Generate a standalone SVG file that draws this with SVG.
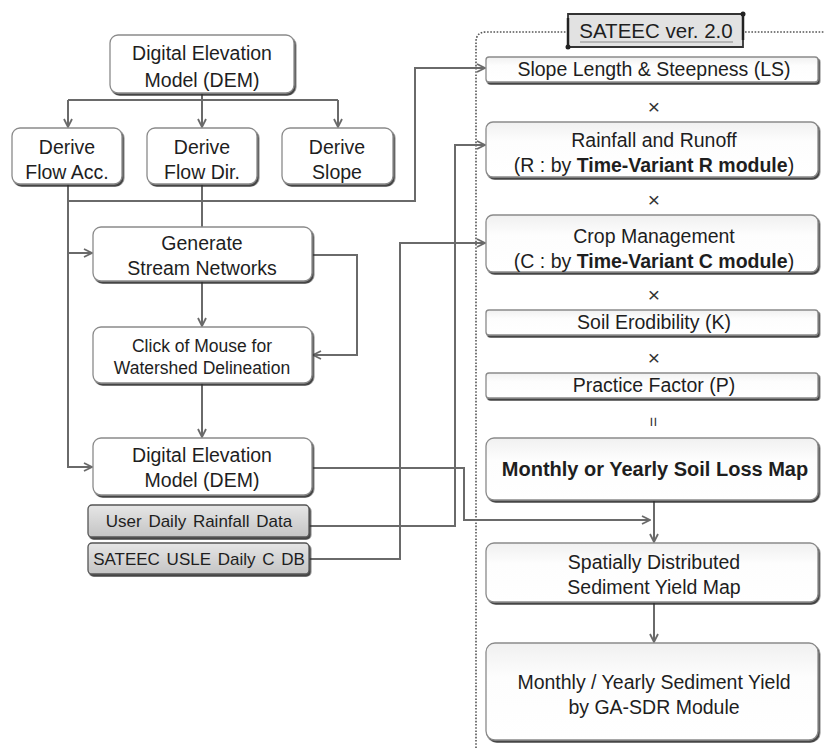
<svg xmlns="http://www.w3.org/2000/svg" width="824" height="749" viewBox="0 0 824 749">
<defs>
<style>
.box{fill:#fff;stroke:#8a8a8a;stroke-width:1.3;filter:url(#sh)}
.flat{fill:url(#fg);stroke:#8a8a8a;stroke-width:1.3;filter:url(#sh)}
.gbox{fill:url(#gg);stroke:#555;stroke-width:1.3;filter:url(#sh)}
.t{font-family:"Liberation Sans",Arial,sans-serif;font-size:19.5px;fill:#1e1e1e;text-anchor:middle}
.s{font-size:17.5px}
.g{font-size:17px}
.b{font-weight:bold}
.op{font-family:"Liberation Sans",Arial,sans-serif;font-size:21px;fill:#333;text-anchor:middle}
.c{fill:none;stroke:#6a6a6a;stroke-width:2}
.a{marker-end:url(#ar)}
</style>
<filter id="sh" x="-5%" y="-10%" width="110%" height="130%">
<feDropShadow dx="1.5" dy="2" stdDeviation="0.7" flood-color="#333" flood-opacity="0.9"/>
</filter>
<linearGradient id="gg" x1="0" y1="0" x2="0" y2="1">
<stop offset="0" stop-color="#e6e6e6"/>
<stop offset="1" stop-color="#c4c4c4"/>
</linearGradient>
<linearGradient id="fg" x1="0" y1="0" x2="0" y2="1">
<stop offset="0" stop-color="#f0f0f0"/>
<stop offset="0.35" stop-color="#fdfdfd"/>
<stop offset="1" stop-color="#ffffff"/>
</linearGradient>
<marker id="ar" viewBox="0 0 10 10" refX="9" refY="5" markerWidth="10" markerHeight="10" markerUnits="userSpaceOnUse" orient="auto">
<path d="M1,1 L9,5 L1,9" fill="none" stroke="#6a6a6a" stroke-width="1.8"/>
</marker>
</defs>
<rect width="824" height="749" fill="#fff"/>

<g id="container">
<path d="M476,748 L476,42 Q476,32 486,32 L566,32 M745,32 L824,32" fill="none" stroke="#555" stroke-width="1.6" stroke-dasharray="1.6,1.6"/>
</g>

<g id="header">
<path d="M568,14 L743,14 L743,47 L568,47 Z" fill="#e2e2e2" stroke="#333" stroke-width="1.8"/>
<path d="M568,47 L568,18 M743,14 L743,40" fill="none" stroke="#222" stroke-width="2.5"/>
<circle cx="743" cy="14" r="2.5" fill="#222"/>
<circle cx="568" cy="47" r="2.5" fill="#222"/>
<text class="t" x="656" y="38" style="font-size:20.5px">SATEEC ver. 2.0</text>
<line x1="580" y1="42" x2="733" y2="42" stroke="#888" stroke-width="1.2"/>
</g>

<g id="connectors">
<path class="c" d="M202,93 L202,100 M68,100 L338,100"/>
<path class="c a" d="M68,100 L68,127"/>
<path class="c a" d="M202,100 L202,127"/>
<path class="c a" d="M338,100 L338,127"/>
<path class="c a" d="M68,184 L68,467 L92,467"/>
<path class="c a" d="M68,253 L92,253"/>
<path class="c" d="M202,184 L202,227"/>
<path class="c a" d="M68,201 L415,201 L415,68 L485,68"/>
<path class="c a" d="M202,281 L202,326"/>
<path class="c a" d="M312,255 L357,255 L357,355 L313,355"/>
<path class="c a" d="M202,383 L202,437"/>
<path class="c a" d="M312,468 L464,468 L464,520 L650,520"/>
<path class="c a" d="M309,526 L455,526 L455,145 L485,145"/>
<path class="c a" d="M309,559 L400,559 L400,243 L485,243"/>
<path class="c a" d="M654,501 L654,542"/>
<path class="c a" d="M654,603 L654,642"/>
</g>

<g id="dem1"><rect class="box" x="110" y="35" width="184" height="58" rx="8"/>
<text class="t" x="202" y="60">Digital Elevation</text><text class="t" x="202" y="87">Model (DEM)</text></g>
<g id="flowacc"><rect class="box" x="12" y="128" width="110" height="56" rx="8"/>
<text class="t" x="67" y="154">Derive</text><text class="t" x="67" y="179">Flow Acc.</text></g>
<g id="flowdir"><rect class="box" x="147" y="128" width="110" height="56" rx="8"/>
<text class="t" x="202" y="154">Derive</text><text class="t" x="202" y="179">Flow Dir.</text></g>
<g id="slope"><rect class="box" x="282" y="128" width="111" height="56" rx="8"/>
<text class="t" x="337" y="154">Derive</text><text class="t" x="337" y="179">Slope</text></g>
<g id="stream"><rect class="box" x="93" y="227" width="219" height="54" rx="8"/>
<text class="t" x="202" y="250">Generate</text><text class="t" x="202" y="275">Stream Networks</text></g>
<g id="click"><rect class="box" x="93" y="327" width="219" height="56" rx="8"/>
<text class="t s" x="202" y="352">Click of Mouse for</text><text class="t s" x="202" y="374">Watershed Delineation</text></g>
<g id="dem2"><rect class="box" x="93" y="438" width="219" height="57" rx="8"/>
<text class="t" x="202" y="462">Digital Elevation</text><text class="t" x="202" y="487">Model (DEM)</text></g>
<g id="rainfalldata"><rect class="gbox" x="88" y="505" width="221" height="32" rx="4"/>
<text class="t g" x="199" y="527" style="word-spacing:2px">User Daily Rainfall Data</text></g>
<g id="cdb"><rect class="gbox" x="88" y="543" width="221" height="31" rx="4"/>
<text class="t g" x="199" y="565" style="word-spacing:2px">SATEEC USLE Daily C DB</text></g>

<g id="ls"><rect class="flat" x="486" y="57" width="332" height="25" rx="3"/>
<text class="t" x="654" y="76">Slope Length &amp; Steepness (LS)</text></g>
<text class="op" x="654" y="114">×</text>
<g id="r"><rect class="flat" x="486" y="122" width="332" height="55" rx="7"/>
<text class="t" x="654" y="147">Rainfall and Runoff</text>
<text class="t" x="654" y="172">(R : by <tspan class="b">Time-Variant R module</tspan>)</text></g>
<text class="op" x="654" y="207">×</text>
<g id="c"><rect class="flat" x="486" y="215" width="332" height="57" rx="7"/>
<text class="t" x="654" y="243">Crop Management</text>
<text class="t" x="654" y="268">(C : by <tspan class="b">Time-Variant C module</tspan>)</text></g>
<text class="op" x="654" y="302">×</text>
<g id="k"><rect class="flat" x="486" y="310" width="332" height="25" rx="3"/>
<text class="t" x="654" y="329">Soil Erodibility (K)</text></g>
<text class="op" x="654" y="365">×</text>
<g id="p"><rect class="flat" x="486" y="373" width="332" height="25" rx="3"/>
<text class="t" x="654" y="392">Practice Factor (P)</text></g>
<text class="op" x="654" y="422" transform="rotate(90 654 422)" dy="6" style="font-size:17px">=</text>
<g id="loss"><rect class="flat" x="486" y="438" width="332" height="62" rx="8"/>
<text class="t b" x="655" y="476" style="font-size:20px">Monthly or Yearly Soil Loss Map</text></g>
<g id="sy"><rect class="flat" x="486" y="543" width="332" height="59" rx="8"/>
<text class="t" x="654" y="569">Spatially Distributed</text><text class="t" x="654" y="594">Sediment Yield Map</text></g>
<g id="sdr"><rect class="flat" x="486" y="643" width="332" height="97" rx="9"/>
<text class="t" x="654" y="689">Monthly / Yearly Sediment Yield</text><text class="t" x="654" y="714">by GA-SDR Module</text></g>
</svg>
